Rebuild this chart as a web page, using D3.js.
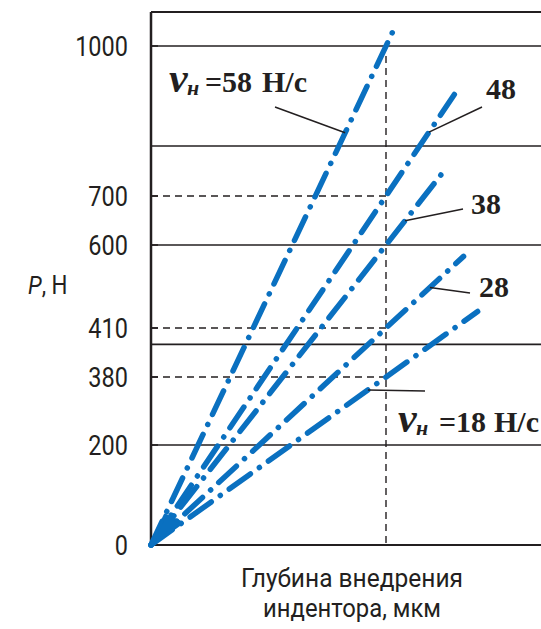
<!DOCTYPE html>
<html><head><meta charset="utf-8">
<script src="https://cdn.jsdelivr.net/npm/d3@7/dist/d3.min.js"></script>
<style>html,body{margin:0;padding:0;background:#fff;} svg{display:block}</style>
</head><body><svg id="chart" width="541" height="629"></svg>
<script>
// Loading rate of the indenter, Н/с
const speeds = [58, 48, 38, 28, 18];
// Load reached by each series at the reference indentation depth, Н
const loadsAtRef = [1000, 700, 600, 410, 380];
// Depth each line is drawn up to (reference depth = 1)
const lineEnds = [1.04, 1.31, 1.235, 1.33, 1.39];
const yTickValues = [0, 200, 380, 410, 600, 700, 1000];
const gridValues = [200, 400, 600, 800, 1000];
const guideValues = [380, 410, 700];
const refDepth = 1;

const svg = d3.select("#chart");
const ink = "#231f20", blue = "#0a70c0";
const plotLeft = 151, frameTop = 12, plotRight = 541;

const x = d3.scaleLinear().domain([0, refDepth]).range([plotLeft, 386]);
// Schematic load axis, stretched around 380–410 Н
const y = d3.scaleLinear()
  .domain([0, 200, 380, 410, 600, 700, 1000])
  .range([545, 445, 377, 328, 245, 196, 46]);

// point on the ray from the origin through (refDepth, P) at depth d
function rayPoint(P, d) {
  const t = d / refDepth;
  return [x(0) + (x(refDepth) - x(0)) * t, y(0) + (y(P) - y(0)) * t];
}

// frame and solid grid
const g = svg.append("g");
g.append("line").attr("x1", plotLeft).attr("x2", plotRight).attr("y1", frameTop).attr("y2", frameTop)
  .attr("stroke", ink).attr("stroke-width", 2);
g.selectAll(".grid").data([0, ...gridValues]).join("line")
  .attr("x1", plotLeft).attr("x2", plotRight)
  .attr("y1", d => y(d)).attr("y2", d => y(d))
  .attr("stroke", ink).attr("stroke-width", d => d === 0 ? 2 : 1.6);
g.append("line").attr("x1", plotLeft).attr("x2", plotLeft).attr("y1", frameTop).attr("y2", y(0) + 1)
  .attr("stroke", ink).attr("stroke-width", 2.5);

// dashed guides to the reference depth
g.selectAll(".guide").data(guideValues).join("line")
  .attr("x1", plotLeft).attr("x2", x(refDepth))
  .attr("y1", d => y(d)).attr("y2", d => y(d))
  .attr("stroke", ink).attr("stroke-width", 1.4).attr("stroke-dasharray", "7 5");
g.append("line").attr("x1", x(refDepth)).attr("x2", x(refDepth))
  .attr("y1", y(1000) + 10).attr("y2", y(0))
  .attr("stroke", ink).attr("stroke-width", 1.4).attr("stroke-dasharray", "7 5");

// ticks on the load axis
g.selectAll(".tick").data(yTickValues).join("line")
  .attr("x1", plotLeft).attr("x2", plotLeft + 7)
  .attr("y1", d => y(d)).attr("y2", d => y(d))
  .attr("stroke", ink).attr("stroke-width", 1.6);

// tick labels
g.selectAll(".tl").data(yTickValues).join("g")
  .attr("transform", d => `translate(128,${y(d)}) scale(0.84,1)`)
  .append("text")
  .attr("text-anchor", "end").attr("dy", "0.36em")
  .attr("font-family", "Roboto").attr("font-size", 28).attr("fill", ink)
  .text(d => d);

// axis titles
const pl = g.append("g").attr("transform", "translate(28,294) scale(0.86,1)")
  .append("text").attr("font-family", "Roboto").attr("font-size", 26).attr("fill", ink);
pl.append("tspan").attr("font-style", "italic").text("P");
pl.append("tspan").text(", Н");

g.append("text").attr("x", 352).attr("y", 587).attr("text-anchor", "middle")
  .attr("font-family", "Roboto").attr("font-size", 25).attr("fill", ink)
  .attr("textLength", 222).attr("lengthAdjust", "spacingAndGlyphs")
  .text("Глубина внедрения");
g.append("text").attr("x", 352).attr("y", 617).attr("text-anchor", "middle")
  .attr("font-family", "Roboto").attr("font-size", 25).attr("fill", ink)
  .attr("textLength", 178).attr("lengthAdjust", "spacingAndGlyphs")
  .text("индентора, мкм");

// series lines
const dashes = ["26 11 0.1 11", "25 11 0.1 11", "26 11 0.1 11", "24 11 0.1 11", "26 11 0.1 11"];
const lineGen = d3.line();
g.selectAll(".series").data(speeds).join("path")
  .attr("d", (s, i) => lineGen([rayPoint(loadsAtRef[i], 0), rayPoint(loadsAtRef[i], lineEnds[i])]))
  .attr("fill", "none").attr("stroke", blue).attr("stroke-width", 5.5)
  .attr("stroke-linecap", "round").attr("stroke-dasharray", (s, i) => dashes[i]);

// solid fan where the lines leave the origin
function atDistance(P, dist) {
  const p1 = rayPoint(P, refDepth), p0 = rayPoint(P, 0);
  const len = Math.hypot(p1[0] - p0[0], p1[1] - p0[1]);
  return rayPoint(P, refDepth * dist / len);
}
const hi = d3.max(loadsAtRef), lo = d3.min(loadsAtRef);
g.append("path")
  .attr("d", d3.line()([rayPoint(hi, 0), atDistance(hi, 33), atDistance(lo, 38)]) + "Z")
  .attr("fill", blue).attr("stroke", blue).attr("stroke-width", 3).attr("stroke-linejoin", "round");

// leader lines to the rate labels
const leaders = [
  { t: 0.826, to: [275, 107] },
  { t: 1.183, to: [482, 107] },
  { t: 1.081, to: [463, 209] },
  { t: 1.187, to: [470, 293] },
  { t: 0.923, to: [425, 391] }
];
g.selectAll(".leader").data(leaders).join("line")
  .attr("x1", (d, i) => rayPoint(loadsAtRef[i], d.t)[0])
  .attr("y1", (d, i) => rayPoint(loadsAtRef[i], d.t)[1])
  .attr("x2", d => d.to[0]).attr("y2", d => d.to[1])
  .attr("stroke", ink).attr("stroke-width", 1.5);

// plain rate labels
const serif = "Liberation Serif";
const plain = [{ i: 1, x: 486, y: 99 }, { i: 2, x: 471, y: 214 }, { i: 3, x: 479, y: 297 }];
g.selectAll(".rate").data(plain).join("text")
  .attr("x", d => d.x).attr("y", d => d.y)
  .attr("font-family", serif).attr("font-weight", "bold").attr("font-size", 30).attr("fill", ink)
  .text(d => speeds[d.i]);

// full rate labels with the symbol v_н
function fullLabel(i, x0, base, parts) {
  const lab = g.append("g").attr("fill", ink).attr("font-family", serif).attr("font-weight", "bold");
  lab.append("text").attr("x", x0).attr("y", base).attr("font-style", "italic").attr("font-size", 42).text("v");
  lab.append("text").attr("x", x0 + parts[0]).attr("y", base + 3).attr("font-style", "italic").attr("font-size", 22).text("н");
  lab.append("text").attr("x", x0 + parts[1]).attr("y", base).attr("font-size", 30).text("=" + speeds[i]);
  lab.append("text").attr("x", x0 + parts[2]).attr("y", base).attr("font-size", 30).text("Н/с");
}
fullLabel(0, 169, 92, [18, 36, 93]);
fullLabel(4, 398, 432, [18, 41, 96]);
</script></body></html>
